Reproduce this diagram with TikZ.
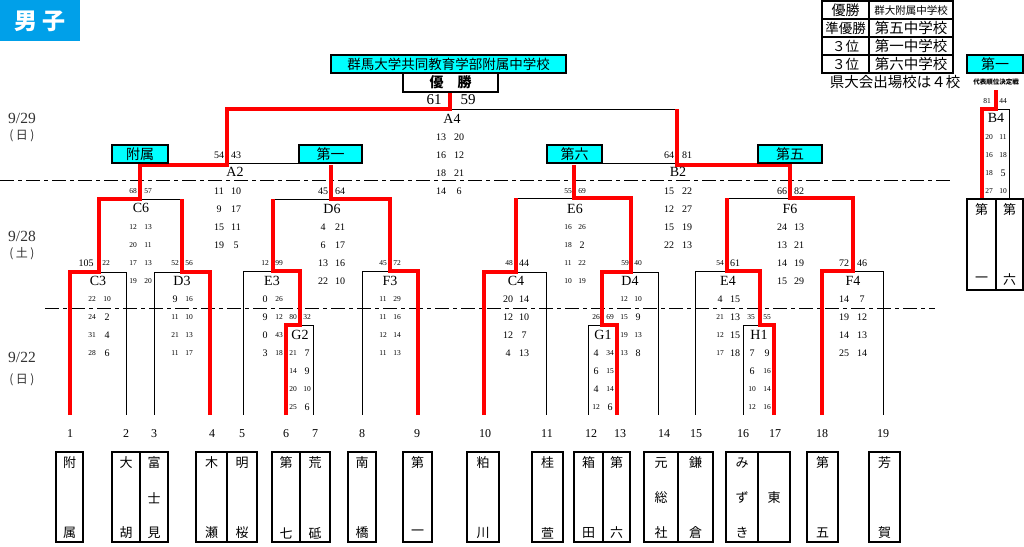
\documentclass[tikz,border=0pt]{standalone}
\usepackage{fontspec}
\setmainfont{Liberation Serif}
\newfontfamily\jp{Noto Sans CJK JP}
\definecolor{cyanbox}{RGB}{0,255,255}
\definecolor{titleblue}{RGB}{0,160,233}
\newcommand\pr[7]{\node[#4] (p#1-#3) at (#1,#3) {#6};\node[#5] (p#2-#3) at (#2,#3) {#7};}
\newcommand\schl[5]{%
  \node[jch] (t#1) at (#1,463) {#2};
  \node[jch] (m#1) at (#1,498) {#3};
  \node[jch] (b#1) at (#1,533) {#4};}
\begin{document}
\begin{tikzpicture}[x=1pt,y=-1pt,
  blk/.style={line width=1pt},
  redp/.style={draw=red, line width=4.8pt, line join=miter},
  ddash/.style={line width=1pt, dash pattern=on 14pt off 4pt on 4pt off 4pt},
  sS/.style={inner sep=0pt, font=\fontsize{7.5}{8}\selectfont},
  sM/.style={inner sep=0pt, font=\fontsize{10}{11}\selectfont},
  sB/.style={inner sep=0pt, font=\fontsize{15}{16}\selectfont},
  lab/.style={inner sep=0pt, font=\fontsize{14}{15}\selectfont},
  numl/.style={inner sep=0pt, font=\fontsize{12}{13}\selectfont},
  datel/.style={inner sep=0pt, text=black!80, font=\fontsize{15.5}{16}\selectfont},
  datej/.style={inner sep=0pt, text=black!80, font=\jp\fontsize{12}{13}\selectfont},
  jch/.style={inner sep=0pt, font=\jp\fontsize{13}{14}\selectfont},
  cybox/.style={draw, line width=1.2pt, fill=cyanbox},
  sbox/.style={draw, line width=1.2pt},
  cytext/.style={inner sep=0pt, font=\jp\fontsize{14}{15}\selectfont}
]
\useasboundingbox (0,0) rectangle (1024,546);
\fill[white] (0,0) rectangle (1024,546);

% title
\fill[titleblue] (0,0) rectangle (80,41);
\node[inner sep=0pt, text=white, font=\jp\bfseries\fontsize{23}{24}\selectfont] (ttl) at (40,21) {男\hspace{5pt}子};

% results table
\draw[line width=1.2pt] (822,1) rectangle (953,73);
\draw[line width=1.2pt] (822,19) -- (953,19) (822,37) -- (953,37) (822,55) -- (953,55) (869,1) -- (869,73);
\node[inner sep=0pt, font=\jp\fontsize{14}{15}\selectfont] (r1a) at (845.5,10) {優勝};
\node[inner sep=0pt, font=\jp\fontsize{10.5}{11}\selectfont] (r1b) at (911,10) {群大附属中学校};
\node[inner sep=0pt, font=\jp\fontsize{13.5}{14}\selectfont] (r2a) at (845.5,28) {準優勝};
\node[inner sep=0pt, font=\jp\fontsize{14.5}{15}\selectfont] (r2b) at (911,28) {第五中学校};
\node[inner sep=0pt, font=\jp\fontsize{13.5}{14}\selectfont] (r3a) at (845.5,46) {３位};
\node[inner sep=0pt, font=\jp\fontsize{14.5}{15}\selectfont] (r3b) at (911,46) {第一中学校};
\node[inner sep=0pt, font=\jp\fontsize{13.5}{14}\selectfont] (r4a) at (845.5,64) {３位};
\node[inner sep=0pt, font=\jp\fontsize{14.5}{15}\selectfont] (r4b) at (911,64) {第六中学校};
\node[inner sep=0pt, font=\jp\fontsize{14.5}{15}\selectfont] (ken) at (895,82) {県大会出場校は４校};
\node[inner sep=0pt, font=\jp\bfseries\fontsize{6.5}{7}\selectfont] (dai) at (996,82) {代表順位決定戦};

% dates
\node[datel] (d1) at (22,118) {9/29};
\node[datej] (d1b) at (22,136) {(\hspace{2.5pt}日\hspace{2.5pt})};
\node[datel] (d2) at (22,236) {9/28};
\node[datej] (d2b) at (22,254) {(\hspace{2.5pt}土\hspace{2.5pt})};
\node[datel] (d3) at (22,357) {9/22};
\node[datej] (d3b) at (22,380) {(\hspace{2.5pt}日\hspace{2.5pt})};

% dash-dot separators
\draw[ddash] (0,180) -- (952,180);
\draw[ddash] (45,308) -- (935,308);

% black bracket lines
\draw[blk] (70,272) -- (126,272) (154,272) -- (210,272) (99,199) -- (182,199)
  (243,271) -- (300,271) (286,325) -- (313,325) (362,271) -- (418,271)
  (273,199) -- (390,199) (140,163.5) -- (330,163.5)
  (484,272) -- (546,272) (588,325) -- (617,325) (602,272) -- (658,272)
  (516,198) -- (631,198) (743,325) -- (774,325) (695,271) -- (760,271)
  (822,271) -- (883,271) (727,198) -- (853,198) (574,163.5) -- (790,163.5)
  (227,109) -- (677,109) (982,109) -- (1009,109);
\draw[blk] (126,272) -- (126,415) (154,272) -- (154,415) (243,271) -- (243,415)
  (313,325) -- (313,415) (362,271) -- (362,415) (546,272) -- (546,415)
  (588,325) -- (588,415) (658,272) -- (658,415) (695,271) -- (695,415)
  (743,325) -- (743,415) (883,271) -- (883,415) (1009,109) -- (1009,199);

% red winning paths
\draw[redp] (70,415) -- (70,272) -- (99,272) -- (99,199) -- (140,199) -- (140,165) -- (227,165) -- (227,109) -- (450,109) -- (450,92);
\draw[redp] (210,415) -- (210,272) -- (182,272) -- (182,199);
\draw[redp] (286,415) -- (286,325) -- (300,325) -- (300,271) -- (273,271) -- (273,199);
\draw[redp] (418,415) -- (418,271) -- (390,271) -- (390,199) -- (331,199) -- (331,165);
\draw[redp] (484,415) -- (484,272) -- (516,272) -- (516,198);
\draw[redp] (617,415) -- (617,325) -- (602,325) -- (602,272) -- (631,272) -- (631,198) -- (574,198) -- (574,165);
\draw[redp] (774,415) -- (774,325) -- (760,325) -- (760,271) -- (727,271) -- (727,198);
\draw[redp] (822,415) -- (822,271) -- (853,271) -- (853,198) -- (790,198) -- (790,165) -- (677,165) -- (677,109);
\draw[redp] (982,199) -- (982,109) -- (996,109) -- (996,90);

% top boxes
\draw[cybox] (331,55) rectangle (566,73);
\node[inner sep=0pt, font=\jp\fontsize{13.5}{14}\selectfont] (title) at (448.5,64) {群馬大学共同教育学部附属中学校};
\draw[line width=2.5pt, fill=white] (403,73) rectangle (498,92);
\node[inner sep=0pt, font=\jp\bfseries\fontsize{14}{15}\selectfont] (win) at (450.5,82.5) {優　勝};
\draw[cybox] (112,145) rectangle (168,163);
\node[cytext] (cb1) at (140,154) {附属};
\draw[cybox] (299,145) rectangle (362,163);
\node[cytext] (cb2) at (330.5,154) {第一};
\draw[cybox] (547,145) rectangle (602,163);
\node[cytext] (cb3) at (574.5,154) {第六};
\draw[cybox] (758,145) rectangle (822,163);
\node[cytext] (cb4) at (790,154) {第五};
\draw[cybox] (967,55) rectangle (1023,73);
\node[cytext] (cb5) at (995,64) {第一};

% match labels
\node[lab] (lA4) at (452,119) {A4};
\node[lab] (lA2) at (235,172) {A2};
\node[lab] (lB2) at (678,172) {B2};
\node[lab] (lC6) at (141,208) {C6};
\node[lab] (lD6) at (332,209) {D6};
\node[lab] (lE6) at (575,209) {E6};
\node[lab] (lF6) at (790,209) {F6};
\node[lab] (lC3) at (98,281) {C3};
\node[lab] (lD3) at (182,281) {D3};
\node[lab] (lE3) at (272,281) {E3};
\node[lab] (lF3) at (390,281) {F3};
\node[lab] (lC4) at (516,281) {C4};
\node[lab] (lD4) at (630,281) {D4};
\node[lab] (lE4) at (728,281) {E4};
\node[lab] (lF4) at (853,281) {F4};
\node[lab] (lG2) at (300,335) {G2};
\node[lab] (lG1) at (603,335) {G1};
\node[lab] (lH1) at (759,335) {H1};
\node[lab] (lB4) at (996,118) {B4};

% scores
\pr{434}{468}{100}{sB}{sB}{61}{59}
\pr{441}{459}{137}{sM}{sM}{13}{20}
\pr{441}{459}{155}{sM}{sM}{16}{12}
\pr{441}{459}{173}{sM}{sM}{18}{21}
\pr{441}{459}{191}{sM}{sM}{14}{6}

\pr{219}{236}{155}{sM}{sM}{54}{43}
\pr{219}{236}{191}{sM}{sM}{11}{10}
\pr{219}{236}{209}{sM}{sM}{9}{17}
\pr{219}{236}{227}{sM}{sM}{15}{11}
\pr{219}{236}{245}{sM}{sM}{19}{5}

\pr{669}{687}{155}{sM}{sM}{64}{81}
\pr{669}{687}{191}{sM}{sM}{15}{22}
\pr{669}{687}{209}{sM}{sM}{12}{27}
\pr{669}{687}{227}{sM}{sM}{15}{19}
\pr{669}{687}{245}{sM}{sM}{22}{13}

\pr{133}{148}{191}{sS}{sS}{68}{57}
\pr{133}{148}{227}{sS}{sS}{12}{13}
\pr{133}{148}{245}{sS}{sS}{20}{11}
\pr{133}{148}{263}{sS}{sS}{17}{13}
\pr{133}{148}{281}{sS}{sS}{19}{20}

\pr{323}{340}{191}{sM}{sM}{45}{64}
\pr{323}{340}{227}{sM}{sM}{4}{21}
\pr{323}{340}{245}{sM}{sM}{6}{17}
\pr{323}{340}{263}{sM}{sM}{13}{16}
\pr{323}{340}{281}{sM}{sM}{22}{10}

\pr{568}{582}{191}{sS}{sS}{55}{69}
\pr{568}{582}{227}{sS}{sS}{16}{26}
\pr{568}{582}{245}{sS}{sM}{18}{2}
\pr{568}{582}{263}{sS}{sS}{11}{22}
\pr{568}{582}{281}{sS}{sS}{10}{19}

\pr{782}{799}{191}{sM}{sM}{66}{82}
\pr{782}{799}{227}{sM}{sM}{24}{13}
\pr{782}{799}{245}{sM}{sM}{13}{21}
\pr{782}{799}{263}{sM}{sM}{14}{19}
\pr{782}{799}{281}{sM}{sM}{15}{29}

\pr{86}{106}{263}{sM}{sS}{105}{22}
\pr{92}{107}{299}{sS}{sS}{22}{10}
\pr{92}{107}{317}{sS}{sM}{24}{2}
\pr{92}{107}{335}{sS}{sM}{31}{4}
\pr{92}{107}{353}{sS}{sM}{28}{6}

\pr{175}{189}{263}{sS}{sS}{52}{56}
\pr{175}{189}{299}{sM}{sS}{9}{16}
\pr{175}{189}{317}{sS}{sS}{11}{10}
\pr{175}{189}{335}{sS}{sS}{21}{13}
\pr{175}{189}{353}{sS}{sS}{11}{17}

\pr{265}{279}{263}{sS}{sS}{12}{99}
\pr{265}{279}{299}{sM}{sS}{0}{26}
\pr{265}{279}{317}{sM}{sS}{9}{12}
\pr{265}{279}{335}{sM}{sS}{0}{43}
\pr{265}{279}{353}{sM}{sS}{3}{18}

\pr{293}{307}{317}{sS}{sS}{80}{32}
\pr{293}{307}{353}{sS}{sM}{21}{7}
\pr{293}{307}{371}{sS}{sM}{14}{9}
\pr{293}{307}{389}{sS}{sS}{20}{10}
\pr{293}{307}{407}{sS}{sM}{25}{6}

\pr{383}{397}{263}{sS}{sS}{45}{72}
\pr{383}{397}{299}{sS}{sS}{11}{29}
\pr{383}{397}{317}{sS}{sS}{11}{16}
\pr{383}{397}{335}{sS}{sS}{12}{14}
\pr{383}{397}{353}{sS}{sS}{11}{13}

\pr{509}{524}{263}{sS}{sM}{48}{44}
\pr{508}{524}{299}{sM}{sM}{20}{14}
\pr{508}{524}{317}{sM}{sM}{12}{10}
\pr{508}{524}{335}{sM}{sM}{12}{7}
\pr{508}{524}{353}{sM}{sM}{4}{13}

\pr{625}{638}{263}{sS}{sS}{59}{40}
\pr{624}{638}{299}{sS}{sS}{12}{10}
\pr{624}{638}{317}{sS}{sM}{15}{9}
\pr{624}{638}{335}{sS}{sS}{19}{13}
\pr{624}{638}{353}{sS}{sM}{13}{8}

\pr{596}{610}{317}{sS}{sS}{26}{69}
\pr{596}{610}{353}{sM}{sS}{4}{34}
\pr{596}{610}{371}{sM}{sS}{6}{15}
\pr{596}{610}{389}{sM}{sS}{4}{14}
\pr{596}{610}{407}{sS}{sM}{12}{6}

\pr{720}{735}{263}{sS}{sM}{54}{61}
\pr{720}{735}{299}{sM}{sM}{4}{15}
\pr{720}{735}{317}{sS}{sM}{21}{13}
\pr{720}{735}{335}{sS}{sM}{12}{15}
\pr{720}{735}{353}{sS}{sM}{17}{18}

\pr{751}{767}{317}{sS}{sS}{35}{55}
\pr{752}{767}{353}{sM}{sM}{7}{9}
\pr{752}{767}{371}{sM}{sS}{6}{16}
\pr{752}{767}{389}{sS}{sS}{10}{14}
\pr{752}{767}{407}{sS}{sS}{12}{16}

\pr{844}{862}{263}{sM}{sM}{72}{46}
\pr{844}{862}{299}{sM}{sM}{14}{7}
\pr{844}{862}{317}{sM}{sM}{19}{12}
\pr{844}{862}{335}{sM}{sM}{14}{13}
\pr{844}{862}{353}{sM}{sM}{25}{14}

\pr{987}{1003}{101}{sS}{sS}{81}{44}
\pr{989}{1003}{137}{sS}{sS}{20}{11}
\pr{989}{1003}{155}{sS}{sS}{16}{18}
\pr{989}{1003}{173}{sS}{sM}{18}{5}
\pr{989}{1003}{191}{sS}{sS}{27}{10}

% school numbers
\foreach \n/\x in {1/70,2/126,3/154,4/212,5/242,6/286,7/315,8/362,9/417,10/485,11/547,12/591,13/620,14/664,15/696,16/743,17/775,18/822,19/883}
  \node[numl] (n\n) at (\x,434) {\n};

% school boxes
\draw[sbox] (56,452) rectangle (83,542);
\draw[sbox] (112,452) rectangle (168,542) (140,452) -- (140,542);
\draw[sbox] (196,452) rectangle (257,542) (227,452) -- (227,542);
\draw[sbox] (272,452) rectangle (330,542) (300,452) -- (300,542);
\draw[sbox] (348,452) rectangle (376,542);
\draw[sbox] (403,452) rectangle (432,542);
\draw[sbox] (467,452) rectangle (499,542);
\draw[sbox] (532,452) rectangle (563,542);
\draw[sbox] (574,452) rectangle (630,542) (603,452) -- (603,542);
\draw[sbox] (644,452) rectangle (713,542) (678,452) -- (678,542);
\draw[sbox] (726,452) rectangle (790,542) (758,452) -- (758,542);
\draw[sbox] (807,452) rectangle (838,542);
\draw[sbox] (869,452) rectangle (900,542);
\draw[sbox] (967,199) rectangle (1023,290) (996,199) -- (996,290);

\schl{69.5}{附}{}{属}{}
\schl{126}{大}{}{胡}{}
\schl{154}{富}{士}{見}{}
\schl{211.5}{木}{}{瀬}{}
\schl{242}{明}{}{桜}{}
\schl{286}{第}{}{七}{}
\schl{315}{荒}{}{砥}{}
\schl{362}{南}{}{橋}{}
\schl{417.5}{第}{}{一}{}
\schl{483}{粕}{}{川}{}
\schl{547.5}{桂}{}{萱}{}
\schl{588.5}{箱}{}{田}{}
\schl{616.5}{第}{}{六}{}
\schl{661}{元}{総}{社}{}
\schl{695.5}{鎌}{}{倉}{}
\schl{742}{み}{ず}{き}{}
\schl{774}{}{東}{}{}
\schl{822.5}{第}{}{五}{}
\schl{884.5}{芳}{}{賀}{}
\node[jch] (bt1) at (981.5,210) {第};
\node[jch] (bb1) at (981.5,280) {一};
\node[jch] (bt2) at (1009.5,210) {第};
\node[jch] (bb2) at (1009.5,280) {六};
\end{tikzpicture}
\end{document}
